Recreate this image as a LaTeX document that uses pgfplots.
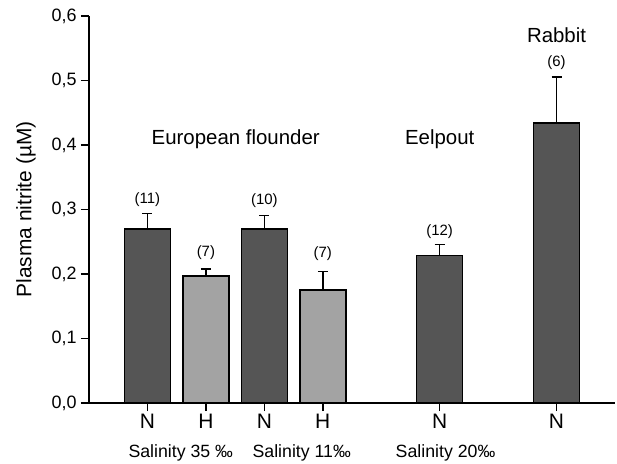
\documentclass[border=0pt]{standalone}
\usepackage{pgfplots}
\pgfplotsset{compat=1.18}
\usepackage{fontspec}
\setmainfont{Liberation Sans}

\definecolor{darkbar}{HTML}{555555}
\definecolor{lightbar}{HTML}{A3A3A3}

% normoxic (N) groups: x, mean, +SEM
\pgfplotstableread{
x   y      e
0   0.270  0.024
2   0.270  0.021
5   0.229  0.017
7   0.434  0.071
}\normoxic
% hypoxic (H) groups
\pgfplotstableread{
x   y      e
1   0.197  0.011
3   0.175  0.029
}\hypoxic

\begin{document}
\begin{tikzpicture}
\path[use as bounding box] (-89bp,-61bp) rectangle (528bp,403bp);
\begin{axis}[
  scale only axis,
  width=526bp, height=387bp,
  xmin=-1, xmax=8,
  ymin=0, ymax=0.6,
  axis x line*=bottom,
  axis y line*=left,
  axis line style={line width=1.5bp},
  ytick={0,0.1,...,0.6},
  xtick={0,1,2,3,5,7},
  xticklabels={N,H,N,H,N,N},
  tick style={line width=1.5bp, black},
  tick align=outside,
  major tick length=8bp,
  /pgf/number format/use comma,
  /pgf/number format/fixed,
  /pgf/number format/fixed zerofill,
  /pgf/number format/precision=1,
  /pgf/number format/assume math mode=true,
  yticklabel style={font=\fontsize{18}{21}\selectfont, xshift=-1bp},
  xticklabel style={font=\fontsize{21}{24}\selectfont},
  ylabel={Plasma nitrite (µM)},
  ylabel style={font=\fontsize{21}{24}\selectfont, at={(axis description cs:-0.12,0.5)}, anchor=center},
  ybar, bar width=46bp, bar shift=0pt,
  clip=false,
]
\addplot[fill=darkbar, draw=black, line width=1.5bp,
  error bars/.cd, y dir=plus, y explicit,
  error bar style={line width=1.6bp, black},
  error mark options={rotate=90, mark size=5bp, line width=1.6bp, black}]
  table[x=x, y=y, y error=e] {\normoxic};
\addplot[fill=lightbar, draw=black, line width=1.5bp,
  error bars/.cd, y dir=plus, y explicit,
  error bar style={line width=1.6bp, black},
  error mark options={rotate=90, mark size=5bp, line width=1.6bp, black}]
  table[x=x, y=y, y error=e] {\hypoxic};

% group sizes
\begin{scope}[every node/.style={font=\fontsize{15}{17}\selectfont}]
\node at (axis cs:0,0.315) {(11)};
\node at (axis cs:1,0.233) {(7)};
\node at (axis cs:2,0.313) {(10)};
\node at (axis cs:3,0.232) {(7)};
\node at (axis cs:5,0.266) {(12)};
\node at (axis cs:7,0.527) {(6)};
\end{scope}

% species
\begin{scope}[every node/.style={font=\fontsize{20.5}{23}\selectfont}]
\node at (axis cs:1.51,0.409) {European flounder};
\node at (axis cs:5,0.409) {Eelpout};
\node at (axis cs:7,0.571) {Rabbit};
\end{scope}

% salinity of the water
\begin{scope}[every node/.style={font=\fontsize{17.8}{20}\selectfont}]
\node at ([yshift=-50bp]axis cs:0.57,0) {Salinity 35 ‰};
\node at ([yshift=-50bp]axis cs:2.64,0) {Salinity 11‰};
\node at ([yshift=-50bp]axis cs:5.1,0) {Salinity 20‰};
\end{scope}
\end{axis}
\end{tikzpicture}
\end{document}
